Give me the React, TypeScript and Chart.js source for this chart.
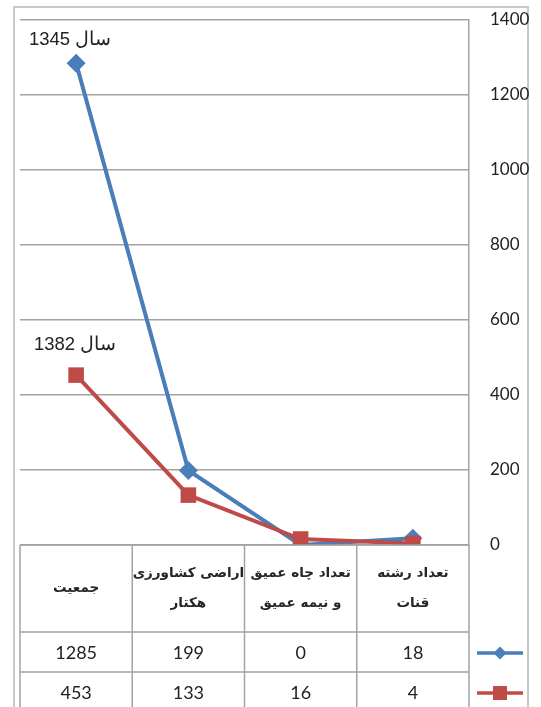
import React, { useEffect, useRef } from "react";
import { Chart, registerables } from "chart.js";

Chart.register(...registerables);

const categories: string[][] = [
  ["جمعیت"],
  ["اراضی کشاورزی", "هکتار"],
  ["تعداد چاه عمیق", "و نیمه عمیق"],
  ["تعداد رشته", "قنات"],
];
const seriesNames = ["سال 1345", "سال 1382"];
const values1345 = [1285, 199, 0, 18];
const values1382 = [453, 133, 16, 4];
const yTicks = [0, 200, 400, 600, 800, 1000, 1200, 1400];

const BLUE = "#4a7ebb";
const RED = "#be4b48";
const GRID = "#a3a3a3";

function drawMarker(ctx: CanvasRenderingContext2D, style: string, x: number, y: number, r: number, color: string) {
  ctx.save();
  ctx.fillStyle = color;
  ctx.beginPath();
  if (style === "rectRot") {
    ctx.moveTo(x, y - r);
    ctx.lineTo(x + r, y);
    ctx.lineTo(x, y + r);
    ctx.lineTo(x - r, y);
    ctx.closePath();
  } else {
    ctx.rect(x - r, y - r, 2 * r, 2 * r);
  }
  ctx.fill();
  ctx.restore();
}

const framePlugin = {
  id: "frame",
  beforeDraw(chart: any) {
    const ctx = chart.ctx as CanvasRenderingContext2D;
    ctx.save();
    ctx.fillStyle = "#ffffff";
    ctx.fillRect(0, 0, chart.width, chart.height);
    ctx.strokeStyle = "#c9c9c9";
    ctx.lineWidth = 2;
    ctx.strokeRect(14, 7, chart.width - 27, chart.height + 20);
    ctx.restore();
  },
};

const tablePlugin = {
  id: "dataTable",
  afterDraw(chart: any) {
    const ctx = chart.ctx as CanvasRenderingContext2D;
    const xs = chart.scales.x;
    const area = chart.chartArea;
    const n = categories.length;
    const centers = categories.map((_, i) => xs.getPixelForValue(i));
    const bounds: number[] = [area.left];
    for (let i = 0; i < n - 1; i++) bounds.push((centers[i] + centers[i + 1]) / 2);
    bounds.push(area.right);

    const top = area.bottom;
    const headerBottom = top + 87;
    const row1Bottom = headerBottom + 40;
    const row2Bottom = row1Bottom + 40;
    const bottom = chart.height;

    ctx.save();
    ctx.strokeStyle = GRID;
    ctx.lineWidth = 1.5;
    ctx.beginPath();
    bounds.forEach((b) => {
      ctx.moveTo(b, top);
      ctx.lineTo(b, bottom);
    });
    [top, headerBottom, row1Bottom, row2Bottom].forEach((y) => {
      ctx.moveTo(area.left, y);
      ctx.lineTo(area.right, y);
    });
    ctx.stroke();

    // header
    ctx.fillStyle = "#262626";
    ctx.textAlign = "center";
    ctx.textBaseline = "middle";
    ctx.font = "bold 13.5px 'DejaVu Sans'";
    const hMid = (top + headerBottom) / 2;
    categories.forEach((lines, i) => {
      const lh = 30;
      const y0 = hMid - ((lines.length - 1) * lh) / 2;
      lines.forEach((t, j) => ctx.fillText(t, centers[i], y0 + j * lh));
    });

    // values
    ctx.font = "18px Lato";
    ctx.fillStyle = "#222";
    const rows = [
      { bottomPrev: headerBottom, bottom: row1Bottom },
      { bottomPrev: row1Bottom, bottom: row2Bottom },
    ];
    chart.data.datasets.forEach((ds: any, k: number) => {
      const y = (rows[k].bottomPrev + rows[k].bottom) / 2 + 1;
      ds.data.forEach((v: number, i: number) => ctx.fillText(String(v), centers[i], y));
      // legend key
      const kx1 = area.right + 8;
      const kx2 = area.right + 54;
      ctx.strokeStyle = ds.borderColor;
      ctx.lineWidth = 3.5;
      ctx.beginPath();
      ctx.moveTo(kx1, y);
      ctx.lineTo(kx2, y);
      ctx.stroke();
      drawMarker(ctx, ds.pointStyle, (kx1 + kx2) / 2, y, ds.pointStyle === "rectRot" ? 6.5 : 7, ds.borderColor);
    });

    // series annotations
    const offsets = [
      { dx: -6, dy: -23 },
      { dx: -1, dy: -30 },
    ];
    ctx.font = "18.5px 'Liberation Sans'";
    ctx.fillStyle = "#222";
    chart.data.datasets.forEach((ds: any, k: number) => {
      const p = chart.getDatasetMeta(k).data[0];
      ctx.fillText(ds.label, p.x + offsets[k].dx, p.y + offsets[k].dy);
    });
    ctx.restore();
  },
};

export default function App() {
  const ref = useRef<HTMLCanvasElement | null>(null);
  useEffect(() => {
    if (!ref.current) return;
    const chart = new Chart(ref.current, {
      type: "line",
      data: {
        labels: categories.map((c) => c.join(" ")),
        datasets: [
          {
            label: seriesNames[0],
            data: values1345,
            borderColor: BLUE,
            backgroundColor: BLUE,
            borderWidth: 4,
            pointStyle: "rectRot",
            pointRadius: 9.5,
            pointBorderWidth: 0,
            order: 1,
          },
          {
            label: seriesNames[1],
            data: values1382,
            borderColor: RED,
            backgroundColor: RED,
            borderWidth: 4,
            pointStyle: "rect",
            pointRadius: 11,
            pointBorderWidth: 0,
            order: 0,
          },
        ],
      },
      options: {
        animation: false,
        responsive: false,
        layout: { padding: { left: 20, top: 20, right: 0, bottom: 0 } },
        plugins: { legend: { display: false }, tooltip: { enabled: false } },
        scales: {
          x: {
            offset: true,
            grid: { display: false },
            border: { display: false },
            ticks: { display: false },
            afterFit: (s: any) => {
              s.height = 162;
            },
          },
          y: {
            position: "right",
            min: 0,
            max: 1400,
            afterBuildTicks: (s: any) => {
              s.ticks = yTicks.map((v) => ({ value: v }));
            },
            grid: { color: GRID, lineWidth: 1.5, drawTicks: false },
            border: { display: true, color: GRID, width: 1.5 },
            ticks: {
              padding: 21,
              color: "#222",
              font: { family: "Lato", size: 17 },
              callback: (v: any) => String(v),
            },
            afterFit: (s: any) => {
              s.width = 72;
              s.paddingTop = 0;
              s.paddingBottom = 0;
            },
          },
        },
      },
      plugins: [framePlugin, tablePlugin],
    });
    return () => chart.destroy();
  }, []);
  return (
    <div style={{ position: "absolute", left: 0, top: 0, width: 541, height: 707 }}>
      <canvas ref={ref} width={541} height={707} />
    </div>
  );
}
